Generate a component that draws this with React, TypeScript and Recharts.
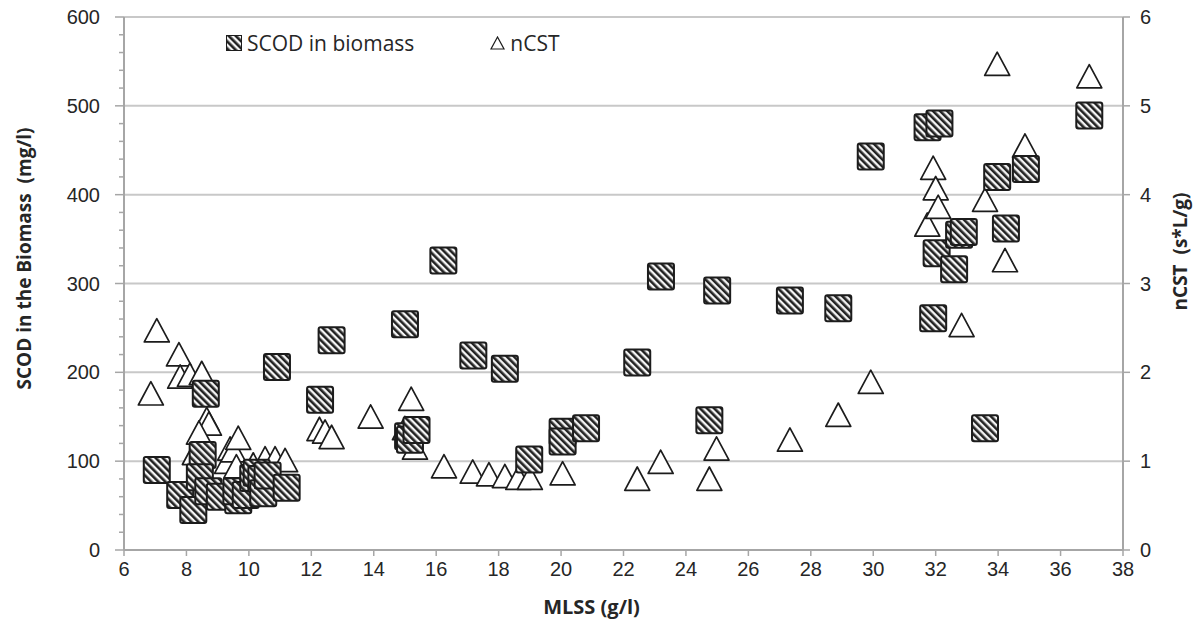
import React from "react";
import { ScatterChart, Scatter, XAxis, YAxis, CartesianGrid } from "recharts";

// SCOD in biomass (left axis, mg/l) vs MLSS (g/l)
const scodMlss = [
  7.05, 7.8, 8.22, 8.62, 8.52, 8.43, 8.7, 9.07, 9.66, 9.6, 9.9, 10.14, 10.25, 10.4, 10.46, 10.6, 10.9, 11.21,
  12.28, 12.65, 15.0, 15.1, 15.16, 15.37, 16.23, 17.19, 18.2, 18.98, 20.05, 20.05, 20.8, 22.44, 23.2, 24.75,
  25.0, 27.33, 28.88, 29.92, 31.74, 32.12, 31.92, 32.03, 32.59, 32.75, 32.9, 33.58, 33.97, 34.25, 34.89, 36.92,
];
const scodValues = [
  90, 62, 45, 176, 107, 82, 66, 60, 56, 66, 62, 81, 87, 80, 64, 84, 206, 70,
  169, 236, 254, 128, 124, 135, 326, 219, 204, 102, 133, 122, 137, 211, 308, 146,
  292, 281, 272, 443, 476, 480, 261, 334, 316, 355, 358, 137, 420, 362, 429, 489,
];

// nCST (right axis, s*L/g) vs MLSS (g/l)
const ncstMlss = [
  6.86, 7.05, 7.76, 7.8, 8.11, 8.49, 8.65, 8.72, 8.47, 8.27, 8.4, 9.3, 9.4, 9.5, 9.66, 9.6, 10.14, 10.52,
  10.84, 11.16, 12.26, 12.44, 12.65, 13.9, 15.0, 15.2, 15.32, 16.25, 17.17, 17.69, 18.2, 18.63, 19.0, 20.05,
  22.44, 23.19, 24.75, 24.98, 27.33, 28.88, 29.92, 31.73, 31.92, 32.0, 32.08, 32.83, 33.58, 33.97, 34.22,
  34.86, 36.92,
];
const ncstValues = [
  1.72, 2.43, 2.16, 1.91, 1.93, 1.95, 1.43, 1.38, 1.17, 1.05, 1.28, 0.95, 1.1, 1.08, 1.22, 0.9, 0.92, 0.99,
  0.99, 0.97, 1.32, 1.29, 1.23, 1.46, 1.33, 1.66, 1.11, 0.9, 0.84, 0.81, 0.79, 0.77, 0.77, 0.82,
  0.76, 0.95, 0.76, 1.1, 1.2, 1.48, 1.85, 3.62, 4.26, 4.03, 3.82, 2.49, 3.9, 5.43, 3.22,
  4.51, 5.29,
];

const mlssTicks = [6, 8, 10, 12, 14, 16, 18, 20, 22, 24, 26, 28, 30, 32, 34, 36, 38];
const scodTicks = [
  0, 20, 40, 60, 80, 100, 120, 140, 160, 180, 200, 220, 240, 260, 280, 300, 320, 340, 360, 380, 400,
  420, 440, 460, 480, 500, 520, 540, 560, 580, 600,
];
const ncstTicks = [0, 1, 2, 3, 4, 5, 6];
const seriesNames = ["SCOD in biomass", "nCST"];

const scodData = scodMlss.map((x, i) => ({ x, y: scodValues[i] }));
const ncstData = ncstMlss.map((x, i) => ({ x, y: ncstValues[i] }));

const axisColor = "#a6a6a6";
const textColor = "#262626";
const numFont = "'Liberation Sans', Arial, sans-serif";
const titleFont = "'Open Sans', sans-serif";

const HatchSquare = (props: any) => {
  const { cx, cy } = props;
  return (
    <rect
      x={cx - 13}
      y={cy - 13}
      width={26}
      height={26}
      rx={2}
      fill="url(#hatch)"
      stroke="#1c1c1c"
      strokeWidth={2}
    />
  );
};

const OpenTriangle = (props: any) => {
  const { cx, cy } = props;
  const pts = `${cx},${cy - 15.5} ${cx - 12.5},${cy + 7.8} ${cx + 12.5},${cy + 7.8}`;
  return <polygon points={pts} fill="#fff" stroke="#1c1c1c" strokeWidth={1.7} strokeLinejoin="round" />;
};

const LeftTick = (props: any) => {
  const { x, y, payload } = props;
  const v = payload.value;
  const major = v % 100 === 0;
  return (
    <g>
      <line x1={x - (major ? 9 : 5)} x2={x} y1={y} y2={y} stroke={axisColor} strokeWidth={1.5} />
      {major && (
        <text x={x - 24} y={y} dy={7} textAnchor="end" fontFamily={numFont} fontSize={20} fill={textColor}>
          {v}
        </text>
      )}
    </g>
  );
};

const rotatedTitle = (text: string, cx: number, cy: number) => (
  <text
    x={cx}
    y={cy}
    transform={`rotate(-90 ${cx} ${cy})`}
    textAnchor="middle"
    dominantBaseline="central"
    fontFamily={titleFont}
    fontWeight={700}
    fontSize={19}
    fill={textColor}
    style={{ whiteSpace: "pre" }}
  >
    {text}
  </text>
);

export default function App() {
  return (
    <div style={{ position: "absolute", left: 0, top: 0, width: 1197, height: 631, background: "#fff" }}>
      <svg width={0} height={0} style={{ position: "absolute" }}>
        <defs>
          <pattern id="hatch" patternUnits="userSpaceOnUse" width={5} height={5} patternTransform="rotate(-45)">
            <rect width={5} height={5} fill="#f4f4f4" />
            <rect width={2.6} height={5} fill="#222" />
          </pattern>
        </defs>
      </svg>

      <ScatterChart width={1197} height={631} margin={{ top: 17, right: 0, bottom: 0, left: 0 }}>
        <CartesianGrid yAxisId="right" vertical={false} stroke="#c8c8c8" strokeWidth={2} />
        <XAxis
          type="number"
          dataKey="x"
          domain={[6, 38]}
          ticks={mlssTicks}
          allowDataOverflow
          height={81}
          axisLine={{ stroke: axisColor, strokeWidth: 2 }}
          tickLine={{ stroke: axisColor, strokeWidth: 1.5 }}
          tickSize={6}
          tickMargin={6}
          tick={{ fill: textColor, fontSize: 20, fontFamily: numFont }}
          label={{
            content: ({ viewBox }: any) => (
              <text
                x={viewBox.x + viewBox.width / 2 - 32}
                y={viewBox.y + 64}
                textAnchor="middle"
                fontFamily={titleFont}
                fontWeight={700}
                fontSize={20}
                fill={textColor}
              >
                MLSS (g/l)
              </text>
            ),
          }}
        />
        <YAxis
          yAxisId="left"
          type="number"
          dataKey="y"
          domain={[0, 600]}
          ticks={scodTicks}
          interval={0}
          width={124}
          axisLine={{ stroke: axisColor, strokeWidth: 2 }}
          tickLine={false}
          tickSize={0}
          tickMargin={0}
          tick={<LeftTick />}
          label={{
            content: ({ viewBox }: any) =>
              rotatedTitle("SCOD in the Biomass  (mg/l)", viewBox.x + 24, viewBox.y + viewBox.height / 2 - 25),
          }}
        />
        <YAxis
          yAxisId="right"
          orientation="right"
          type="number"
          dataKey="y"
          domain={[0, 6]}
          ticks={ncstTicks}
          interval={0}
          width={74}
          axisLine={{ stroke: axisColor, strokeWidth: 2 }}
          tickLine={{ stroke: axisColor, strokeWidth: 1.5 }}
          tickSize={7}
          tickMargin={10}
          tick={{ fill: textColor, fontSize: 20, fontFamily: numFont, textAnchor: "start" }}
          label={{
            content: ({ viewBox }: any) =>
              rotatedTitle("nCST  (s*L/g)", viewBox.x + 57, viewBox.y + viewBox.height / 2 - 32),
          }}
        />
        <Scatter
          name={seriesNames[1]}
          data={ncstData}
          yAxisId="right"
          shape={<OpenTriangle />}
          isAnimationActive={false}
        />
        <Scatter
          name={seriesNames[0]}
          data={scodData}
          yAxisId="left"
          shape={<HatchSquare />}
          isAnimationActive={false}
        />
      </ScatterChart>

      <div
        style={{
          position: "absolute",
          left: 226,
          top: 29,
          display: "flex",
          alignItems: "center",
          fontFamily: titleFont,
          fontSize: 21,
          color: textColor,
          whiteSpace: "nowrap",
        }}
      >
        <svg width={16} height={16}>
          <rect x={0.5} y={0.5} width={15} height={15} fill="url(#hatch)" stroke="#1c1c1c" strokeWidth={1} />
        </svg>
        <span style={{ marginLeft: 5 }}>{seriesNames[0]}</span>
        <svg width={15} height={14} style={{ marginLeft: 76 }}>
          <polygon points="7.5,1 1,13 14,13" fill="#fff" stroke="#1c1c1c" strokeWidth={1.2} />
        </svg>
        <span style={{ marginLeft: 5 }}>{seriesNames[1]}</span>
      </div>
    </div>
  );
}
